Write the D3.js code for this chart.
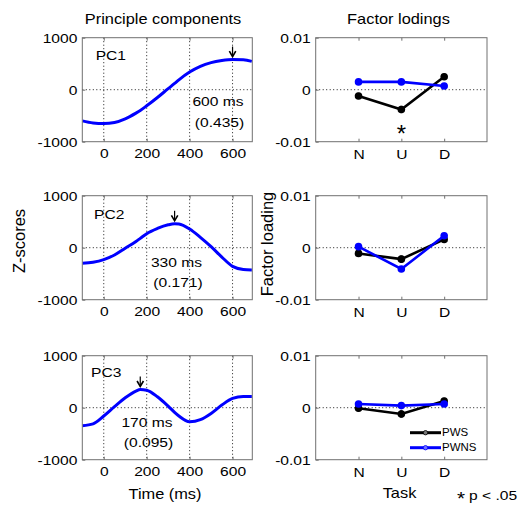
<!DOCTYPE html>
<html>
<head>
<meta charset="utf-8">
<script src="https://cdn.jsdelivr.net/npm/d3@7/dist/d3.min.js"></script>
<style>
  body { margin: 0; background: #fff; }
  text { font-family: "Liberation Sans", Arial, sans-serif; fill: #000; }
</style>
</head>
<body>
<svg width="526" height="509"></svg>
<script>
// ---- data ----
const times = [-100, -50, 0, 50, 100, 150, 170, 200, 250, 300, 330, 350, 400, 450, 500, 550, 600, 650, 690];
const pc1 = [-600, -640, -650, -630, -560, -450, -400, -310, -150, 20, 120, 190, 340, 450, 520, 560, 580, 578, 545];
const pc2 = [-300, -280, -230, -140, -10, 120, 180, 270, 370, 440, 460, 455, 360, 200, 20, -180, -360, -420, -430];
const pc3 = [-345, -310, -160, 20, 190, 320, 350, 335, 210, 30, -90, -160, -270, -230, -110, 50, 180, 215, 215];
const pcNames = ['PC1', 'PC2', 'PC3'];
const peakMs = [600, 330, 170];
const peakVar = ['(0.435)', '(0.171)', '(0.095)'];
const timeTicks = [0, 200, 400, 600];
const zTicks = [-1000, 0, 1000];

const tasks = ['N', 'U', 'D'];
const pws1 = [-0.0012, -0.0038, 0.0025];
const pwns1 = [0.0015, 0.0015, 0.0007];
const pws2 = [-0.0011, -0.0022, 0.0016];
const pwns2 = [0.0002, -0.0041, 0.0023];
const pws3 = [-0.0001, -0.0012, 0.0013];
const pwns3 = [0.0007, 0.0004, 0.0007];
const pwsErr = [0.0006, 0.0007, 0.0006];
const pwnsErr = [0.0005, 0.0004, 0.0005];
const loadTicks = [-0.01, 0, 0.01];
const groups = ['PWS', 'PWNS'];

const svg = d3.select('svg');
const blue = '#0000ff';
const sx = 1.2; // the original text renders wide

function label(g, x, y, s, size, anchor, scaleX) {
  return g.append('text')
    .attr('transform', `translate(${x},${y}) scale(${scaleX || sx},1)`)
    .attr('text-anchor', anchor || 'middle')
    .attr('font-size', size)
    .text(s);
}

const rowTops = [37.7, 195.7, 355.7];
const plotH = 104;
const xTime = d3.scaleLinear().domain([-100, 692]).range([82.3, 252.3]);
const xTask = d3.scaleLinear().domain([0, 4]).range([315.7, 487]);

const pcs = [pc1, pc2, pc3];
const pwsRows = [pws1, pws2, pws3];
const pwnsRows = [pwns1, pwns2, pwns3];

// annotation layout per row (pixel offsets, not data)
const annot = [
  { pcX: 95.7, pcY: 22.5, msX: 218, msY: 68.5 },
  { pcX: 94, pcY: 23.5, msX: 176.5, msY: 71 },
  { pcX: 91, pcY: 21, msX: 147, msY: 71 }
];

svg.append('defs').selectAll('clipPath')
  .data([0, 1]).enter().append('clipPath')
  .attr('id', d => 'clip' + d)
  .append('rect')
  .attr('x', d => d === 0 ? xTime.range()[0] : xTask.range()[0])
  .attr('y', 0)
  .attr('width', d => d === 0 ? xTime.range()[1] - xTime.range()[0] : xTask.range()[1] - xTask.range()[0])
  .attr('height', plotH);

function styleAxis(g) {
  g.select('.domain').remove();
  g.selectAll('.tick line').attr('stroke', '#707070');
}

const fmtNum = d => String(d).replace('\u2212', '-');

rowTops.forEach((top, i) => {
  const y = d3.scaleLinear().domain([-1000, 1000]).range([plotH, 0]);
  const yl = d3.scaleLinear().domain([-0.01, 0.01]).range([plotH, 0]);

  // ---------- left: principal component ----------
  const gl = svg.append('g').attr('transform', `translate(0,${top})`);

  // grid
  gl.selectAll('.vg').data(timeTicks).enter().append('line')
    .attr('x1', d => xTime(d)).attr('x2', d => xTime(d))
    .attr('y1', 0).attr('y2', plotH)
    .attr('stroke', '#000').attr('stroke-width', 0.9).attr('stroke-dasharray', '1,2.5');
  gl.append('line')
    .attr('x1', xTime.range()[0]).attr('x2', xTime.range()[1])
    .attr('y1', y(0)).attr('y2', y(0))
    .attr('stroke', '#000').attr('stroke-width', 0.9).attr('stroke-dasharray', '1,2.5');

  const ax = gl.append('g').attr('transform', `translate(0,${plotH})`)
    .call(d3.axisBottom(xTime).tickValues(timeTicks).tickSizeInner(-3).tickSizeOuter(0).tickFormat(fmtNum));
  styleAxis(ax);
  ax.selectAll('.tick text').attr('font-size', 13).attr('y', 16.5).attr('dy', null)
    .attr('transform', `scale(${sx},1)`);
  const axT = gl.append('g')
    .call(d3.axisTop(xTime).tickValues(timeTicks).tickSizeInner(-3).tickSizeOuter(0).tickFormat(''));
  styleAxis(axT);

  const ay = gl.append('g').attr('transform', `translate(${xTime.range()[0]},0)`)
    .call(d3.axisLeft(y).tickValues(zTicks).tickSizeInner(-3).tickSizeOuter(0).tickFormat(fmtNum));
  styleAxis(ay);
  ay.selectAll('.tick text').attr('font-size', 13).attr('x', -5 / sx).attr('dy', '0.35em')
    .attr('transform', `scale(${sx},1)`);

  // curve
  const line = d3.line()
    .x((d, k) => xTime(times[k]))
    .y(d => y(d))
    .curve(d3.curveMonotoneX);
  gl.append('g').attr('clip-path', 'url(#clip0)')
    .append('path')
    .attr('d', line(pcs[i]))
    .attr('fill', 'none')
    .attr('stroke', blue)
    .attr('stroke-width', 3);

  gl.append('rect')
    .attr('x', xTime.range()[0]).attr('y', 0)
    .attr('width', xTime.range()[1] - xTime.range()[0]).attr('height', plotH)
    .attr('fill', 'none').attr('stroke', '#707070').attr('stroke-width', 1);

  // peak arrow
  const px = xTime(peakMs[i]);
  const tip = y(pcs[i][times.indexOf(peakMs[i])]) - 3;
  gl.append('line').attr('x1', px).attr('x2', px).attr('y1', tip - 10).attr('y2', tip)
    .attr('stroke', '#000').attr('stroke-width', 1.2);
  gl.append('path')
    .attr('d', `M${px - 3.2},${tip - 5.5}L${px},${tip}L${px + 3.2},${tip - 5.5}`)
    .attr('fill', 'none').attr('stroke', '#000').attr('stroke-width', 1.6);

  const a = annot[i];
  label(gl, a.pcX, a.pcY, pcNames[i], 13, 'start');
  label(gl, a.msX, a.msY, peakMs[i] + ' ms', 13, 'middle');
  label(gl, a.msX + 1.5, a.msY + 20.5, peakVar[i], 13, 'middle');

  // ---------- right: factor loadings ----------
  const gr = svg.append('g').attr('transform', `translate(0,${top})`);
  gr.append('line')
    .attr('x1', xTask.range()[0]).attr('x2', xTask.range()[1])
    .attr('y1', yl(0)).attr('y2', yl(0))
    .attr('stroke', '#000').attr('stroke-width', 0.9).attr('stroke-dasharray', '1,2.5');

  const bx = gr.append('g').attr('transform', `translate(0,${plotH})`)
    .call(d3.axisBottom(xTask).tickValues([1, 2, 3]).tickFormat(d => tasks[d - 1])
      .tickSizeInner(-3).tickSizeOuter(0));
  styleAxis(bx);
  bx.selectAll('.tick text').attr('font-size', 13).attr('y', 17.5).attr('dy', null)
    .attr('transform', `scale(${sx},1)`);
  const bxT = gr.append('g')
    .call(d3.axisTop(xTask).tickValues([1, 2, 3]).tickSizeInner(-3).tickSizeOuter(0).tickFormat(''));
  styleAxis(bxT);

  const by = gr.append('g').attr('transform', `translate(${xTask.range()[0]},0)`)
    .call(d3.axisLeft(yl).tickValues(loadTicks).tickSizeInner(-3).tickSizeOuter(0)
      .tickFormat(d => d === 0 ? '0' : d3.format('.2f')(d).replace('\u2212', '-')));
  styleAxis(by);
  by.selectAll('.tick text').attr('font-size', 13).attr('x', -5 / sx).attr('dy', '0.35em')
    .attr('transform', `scale(${sx},1)`);

  const series = [
    { vals: pwsRows[i], err: pwsErr, color: '#000' },
    { vals: pwnsRows[i], err: pwnsErr, color: blue }
  ];
  const lline = d3.line().x((d, k) => xTask(k + 1)).y(d => yl(d));
  series.forEach(s => {
    gr.append('path').attr('d', lline(s.vals))
      .attr('fill', 'none').attr('stroke', s.color).attr('stroke-width', 2.6);
    gr.selectAll(null).data(s.vals).enter().append('line')
      .attr('x1', (d, k) => xTask(k + 1)).attr('x2', (d, k) => xTask(k + 1))
      .attr('y1', (d, k) => yl(d - s.err[k])).attr('y2', (d, k) => yl(d + s.err[k]))
      .attr('stroke', s.color).attr('stroke-width', 2.6);
    gr.selectAll(null).data(s.vals).enter().append('circle')
      .attr('cx', (d, k) => xTask(k + 1)).attr('cy', d => yl(d))
      .attr('r', 3.8).attr('fill', s.color);
  });

  gr.append('rect')
    .attr('x', xTask.range()[0]).attr('y', 0)
    .attr('width', xTask.range()[1] - xTask.range()[0]).attr('height', plotH)
    .attr('fill', 'none').attr('stroke', '#707070').attr('stroke-width', 1);

  if (i === 0) {
    label(gr, xTask(2), 104, '*', 24, 'middle', 1);
  }
  if (i === 2) {
    const lg = gr.append('g');
    [['#000', groups[0]], [blue, groups[1]]].forEach(([c, name], k) => {
      const ly = 77 + k * 15;
      lg.append('line').attr('x1', 410).attr('x2', 441).attr('y1', ly).attr('y2', ly)
        .attr('stroke', c).attr('stroke-width', 3);
      lg.append('circle').attr('cx', 425.5).attr('cy', ly).attr('r', 2.2)
        .attr('fill', c === blue ? '#7070ff' : '#777').attr('stroke', c).attr('stroke-width', 0.8);
      label(lg, 442, ly + 3.5, name, 10, 'start', 1.15);
    });
  }
});

// titles and axis labels
label(svg, 163, 24, 'Principle components', 14, 'middle', 1.17);
label(svg, 398.5, 24, 'Factor lodings', 14, 'middle', 1.17);
label(svg, 165, 499, 'Time (ms)', 14, 'middle', 1.17);
label(svg, 399.5, 498, 'Task', 14, 'middle', 1.17);
svg.append('text').attr('transform', 'translate(25,241) rotate(-90)')
  .attr('text-anchor', 'middle').attr('font-size', 16.5).text('Z-scores');
svg.append('text').attr('transform', 'translate(273,244) rotate(-90)')
  .attr('text-anchor', 'middle').attr('font-size', 16.5).text('Factor loading');
label(svg, 461, 505, '*', 18, 'middle', 1.15);
label(svg, 469, 500, 'p < .05', 13, 'start', 1.2);
</script>
</body>
</html>
